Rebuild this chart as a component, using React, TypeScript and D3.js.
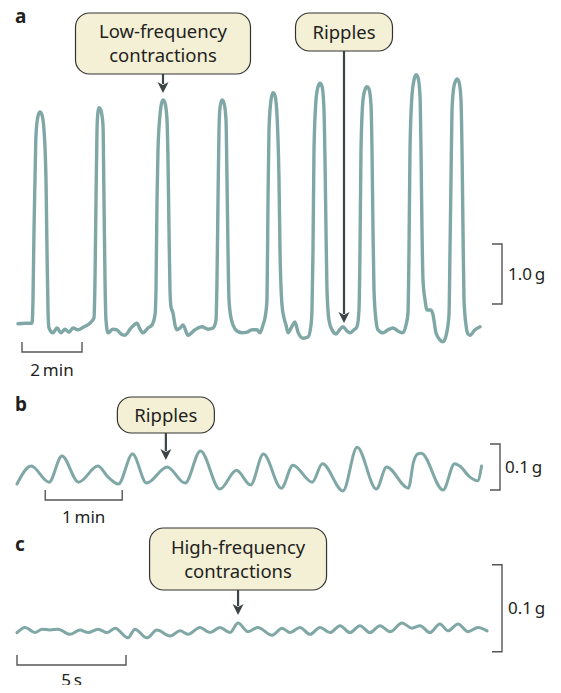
import * as d3 from 'd3';

// Panel a: low-frequency contractions (time in s, force in g)
const timeA = [0, 14, 28, 30, 32, 34, 36, 40, 44, 48, 52, 56, 58, 60, 62, 70, 78, 86, 94, 102, 110, 120, 132, 144, 152,
  154, 156, 158, 160, 162, 166, 170, 172, 174, 176, 180, 190, 198, 206, 214, 226, 238, 244, 250, 260, 268, 274,
  276, 278, 280, 284, 288, 290, 294, 298, 300, 302, 304, 306, 310, 314, 318, 324, 330, 340, 354, 368, 380, 390, 396,
  398, 400, 402, 404, 408, 412, 416, 418, 420, 422, 426, 430, 438, 448, 458, 468, 478, 484, 490, 494, 498,
  500, 502, 506, 510, 514, 518, 522, 524, 528, 532, 536, 540, 548, 554, 560, 570, 580, 586, 588,
  590, 592, 596, 600, 604, 608, 612, 614, 616, 618, 622, 628, 636, 644, 650, 658, 664, 672, 678, 682,
  684, 686, 690, 694, 698, 702, 706, 708, 710, 712, 716, 720, 730, 740, 750, 760, 770, 776, 780,
  782, 784, 788, 792, 796, 800, 804, 806, 808, 810, 814, 818, 826, 830, 836, 844, 850, 856, 862,
  864, 866, 868, 872, 878, 882, 886, 888, 890, 892, 896, 900, 904, 914, 924];
const forceA = [0.02, 0.03, 0.03, 0.42, 1.58, 2.42, 3.17, 3.48, 3.55, 3.5, 3.25, 2.42, 1.25, 0.25, -0.05, -0.13, -0.05, -0.13, -0.07, -0.12, -0.05, -0.08, -0.03, 0.03, 0.12,
  0.75, 2.08, 3.25, 3.55, 3.62, 3.57, 3.33, 2.08, 0.75, 0.08, -0.13, -0.07, -0.08, -0.15, -0.17, -0.05, 0.03, -0.07, -0.13, -0.05, 0, 0.17,
  0.58, 2.08, 2.92, 3.5, 3.72, 3.75, 3.7, 3.42, 2.75, 1.58, 0.58, 0.3, 0.2, 0, -0.08, -0.05, 0, -0.17, -0.08, -0.03, -0.07, -0.05, 0.08,
  0.75, 2.08, 3.25, 3.62, 3.75, 3.7, 3.42, 2.42, 1.25, 0.42, 0.12, 0, -0.1, -0.13, -0.12, -0.08, -0.08, -0.13, 0, 0.12, 0.42,
  2.08, 3.25, 3.75, 3.87, 3.82, 3.5, 2.42, 1.25, 0.33, 0.12, 0, -0.13, -0.02, 0.05, -0.12, -0.22, -0.2, 0, 0.25,
  1.25, 2.92, 3.75, 3.97, 4.03, 3.98, 3.58, 2.75, 1.58, 0.58, 0.08, -0.08, -0.15, -0.07, -0.03, -0.1, -0.13, -0.08, -0.03, 0.25,
  1.25, 2.92, 3.75, 3.92, 3.97, 3.93, 3.67, 2.92, 1.58, 0.58, 0.08, -0.08, -0.13, -0.08, -0.05, -0.1, -0.13, 0, 0.2,
  1.25, 2.92, 3.83, 4.08, 4.17, 4.12, 3.83, 2.92, 1.58, 0.75, 0.42, 0.25, 0.25, 0.17, -0.13, -0.25, -0.28, -0.18, 0.17,
  1.25, 2.42, 3.58, 3.98, 4.1, 4.05, 3.75, 2.92, 1.58, 0.42, 0, -0.15, -0.17, -0.08, -0.03];

// Panel b: ripples (time in s, force in g)
const timeB = [0, 11, 25, 35, 48, 63, 71, 79, 90, 101, 117, 131, 143, 158, 171, 182, 192, 206, 215, 230, 238, 254,
  265, 280, 288, 305, 309, 312, 315, 332, 341, 345, 353, 359, 362];
const forceB = [0.013, 0.052, 0.017, 0.074, 0.017, 0.052, 0.028, 0.013, 0.078, 0.015, 0.05, 0.015, 0.085, 0.002, 0.043,
  0.011, 0.078, 0.004, 0.054, 0.017, 0.057, -0.002, 0.093, 0.002, 0.05, 0.004, 0.061, 0.078, 0.08, 0, 0.057, 0.052,
  0.028, 0.02, 0.052];

// Panel c: high-frequency contractions (time in s, force in g)
const timeC = [0, 0.37, 0.83, 1.15, 1.51, 1.88, 2.43, 2.89, 3.26, 3.72, 4.13, 4.5, 5.09, 5.41, 5.96, 6.42, 7.02, 7.48,
  7.84, 8.39, 8.85, 9.31, 9.77, 10.14, 10.6, 11.05, 11.7, 12.16, 12.52, 12.98, 13.44, 13.9, 14.36, 14.82, 15.27,
  15.73, 16.19, 16.65, 17.11, 17.66, 18.12, 18.49, 18.94, 19.4, 19.77, 20.23, 20.69, 21.15, 21.56];
const forceC = [-0.003, 0.003, -0.003, 0.001, 0, 0.001, -0.005, 0, -0.003, 0.001, -0.003, 0.002, -0.009, 0.001, -0.009,
  0, -0.007, -0.001, -0.005, 0.003, -0.003, 0.003, -0.003, 0.008, -0.002, 0.003, -0.006, 0.002, -0.003, 0.003, -0.005,
  0.003, -0.003, 0.005, -0.003, 0.005, -0.003, 0.005, -0.002, 0.008, 0.002, 0.005, -0.003, 0.007, -0.001, 0.007,
  -0.002, 0.003, -0.001];

// scale bars: [start value, length, label]
const panelLetters = ['a', 'b', 'c'];
const timeBarStart = [8, 22, 0];
const timeBarLength = [120, 60, 5];
const timeBarLabels = ['2\u2009min', '1\u2009min', '5\u2009s'];
const forceBarStart = [0.35, 0, -0.025];
const forceBarLength = [1.0, 0.1, 0.1];
const forceBarLabels = ['1.0\u2009g', '0.1\u2009g', '0.1\u2009g'];

// callouts: target time on each trace
const calloutTexts = [['Low-frequency', 'contractions'], ['Ripples'], ['Ripples'], ['High-frequency', 'contractions']];
const calloutPanel = [0, 0, 1, 2];
const calloutTime = [290, 652, 116, 10.14];

const W = 561;
const H = 693;
const FONT = "'Noto Sans', 'Open Sans', sans-serif";
const TRACE = '#7fa7a6';
const DARK = '#3b4548';
const BOX_FILL = '#f3f0d6';

const xA = d3.scaleLinear().domain([0, 924]).range([18, 480]);
const yA = d3.scaleLinear().domain([0, 1]).range([325, 265]);
const xB = d3.scaleLinear().domain([0, 60]).range([17, 94]);
const yB = d3.scaleLinear().domain([0, 0.1]).range([490, 444]);
const xC = d3.scaleLinear().domain([0, 5]).range([17, 126]);
const yC = d3.scaleLinear().domain([0, 0.1]).range([630, 543]);

const panels = [
  { t: timeA, f: forceA, x: xA, y: yA, width: 3.4, letterY: 23, barY: 352, barX: 502, textX: 508, labelDy: 24 },
  { t: timeB, f: forceB, x: xB, y: yB, width: 3, letterY: 411, barY: 500, barX: 500, textX: 505, labelDy: 23 },
  { t: timeC, f: forceC, x: xC, y: yC, width: 3, letterY: 551, barY: 665, barX: 502, textX: 508, labelDy: 21 },
];

// callout box layout (top, width, height, tip y)
const boxes = [
  { top: 13, w: 175, h: 61, tip: 93 },
  { top: 13, w: 97, h: 38, tip: 323 },
  { top: 397, w: 97, h: 36, tip: 460 },
  { top: 528, w: 177, h: 62, tip: 615 },
];

function Arrow({ x, y1, y2 }: { x: number; y1: number; y2: number }) {
  const head = 11;
  return (
    <g>
      <line x1={x} x2={x} y1={y1} y2={y2 - head + 2} stroke={DARK} strokeWidth={2.2} />
      <path
        d={`M${x},${y2} L${x - 5.5},${y2 - head} L${x},${y2 - head + 3} L${x + 5.5},${y2 - head} Z`}
        fill={DARK}
      />
    </g>
  );
}

export default function App() {
  return (
    <svg width={W} height={H} viewBox={`0 0 ${W} ${H}`} style={{ display: 'block', margin: '-8px' }} fontFamily={FONT}>
      <rect width={W} height={H} fill="#fff" />
      {panels.map((p, i) => {
        const line = d3
          .line<number>()
          .x((_, k) => p.x(p.t[k]))
          .y((d) => p.y(d))
          .curve(d3.curveMonotoneX);
        const bx0 = p.x(timeBarStart[i]);
        const bx1 = p.x(timeBarStart[i] + timeBarLength[i]);
        const fy0 = p.y(forceBarStart[i]);
        const fy1 = p.y(forceBarStart[i] + forceBarLength[i]);
        return (
          <g key={i}>
            <text x={15} y={p.letterY} fontSize={19} fontWeight={700} fill="#231f20">
              {panelLetters[i]}
            </text>
            <path d={line(p.f) ?? ''} fill="none" stroke={TRACE} strokeWidth={p.width} strokeLinejoin="round" strokeLinecap="round" />
            {/* time scale bar */}
            <path
              d={`M${bx0},${p.barY - 10} V${p.barY} H${bx1} V${p.barY - 10}`}
              fill="none"
              stroke="#555"
              strokeWidth={1.4}
            />
            <text x={(bx0 + bx1) / 2} y={p.barY + p.labelDy} textAnchor="middle" fontSize={17} fill="#231f20">
              {timeBarLabels[i]}
            </text>
            {/* force scale bar */}
            <path
              d={`M${p.barX - 10},${fy1} H${p.barX} V${fy0} H${p.barX - 10}`}
              fill="none"
              stroke="#555"
              strokeWidth={1.4}
            />
            <text x={p.textX} y={(fy0 + fy1) / 2 + 6} fontSize={17} fill="#231f20">
              {forceBarLabels[i]}
            </text>
          </g>
        );
      })}
      {calloutTexts.map((lines, i) => {
        const p = panels[calloutPanel[i]];
        const cx = p.x(calloutTime[i]);
        const b = boxes[i];
        const lh = 24;
        const firstY = b.top + b.h / 2 - ((lines.length - 1) * lh) / 2 + 6.5;
        return (
          <g key={`c${i}`}>
            <rect
              x={cx - b.w / 2}
              y={b.top}
              width={b.w}
              height={b.h}
              rx={14}
              fill={BOX_FILL}
              stroke="#333"
              strokeWidth={1.2}
            />
            {lines.map((t, k) => (
              <text key={k} x={cx} y={firstY + k * lh} textAnchor="middle" fontSize={18.5} fill="#231f20">
                {t}
              </text>
            ))}
            <Arrow x={cx} y1={b.top + b.h} y2={b.tip} />
          </g>
        );
      })}
    </svg>
  );
}
